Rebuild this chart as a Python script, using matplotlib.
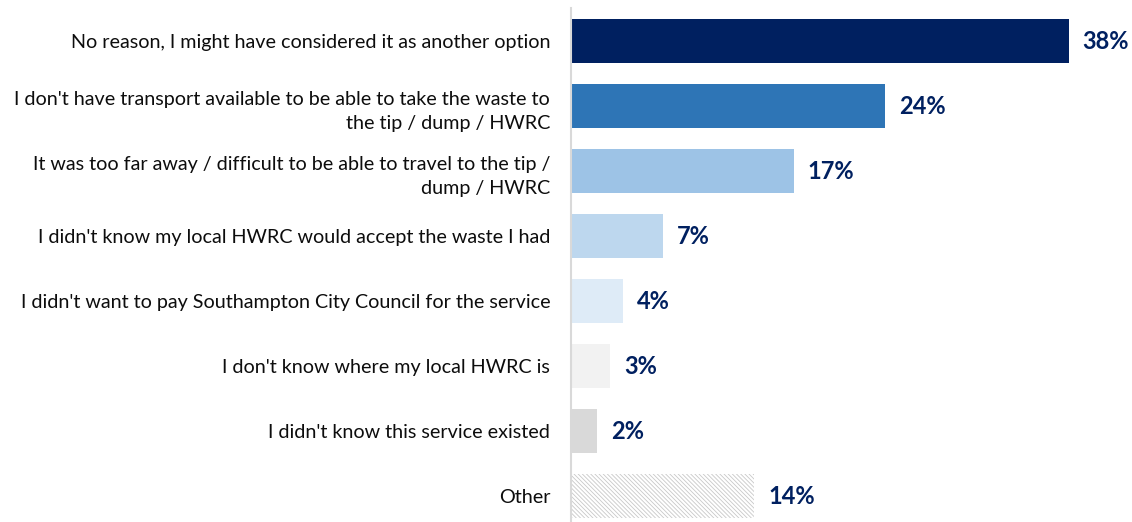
import numpy as np
import matplotlib.pyplot as plt

categories = [
    "No reason, I might have considered it as another option",
    "I don't have transport available to be able to take the waste to\nthe tip / dump / HWRC",
    "It was too far away / difficult to be able to travel to the tip /\ndump / HWRC",
    "I didn't know my local HWRC would accept the waste I had",
    "I didn't want to pay Southampton City Council for the service",
    "I don't know where my local HWRC is",
    "I didn't know this service existed",
    "Other",
]
values = [38, 24, 17, 7, 4, 3, 2, 14]
bar_colors = ["#002060", "#2E75B6", "#9DC3E6", "#BDD7EE", "#DEEBF7", "#F2F2F2", "#D9D9D9", "white"]

plt.rcParams['font.family'] = ['Lato', 'DejaVu Sans']
plt.rcParams['hatch.linewidth'] = 0.6

fig = plt.figure(figsize=(11.32, 5.22), dpi=100)
ax = fig.add_axes([571 / 1132, 0, 1 - 571 / 1132, 1 - 8 / 522])

y = np.arange(len(categories))
bars = ax.barh(y, values, height=0.68, color=bar_colors, linewidth=0)
# hatched "Other" bar
bars[-1].set_hatch('\\' * 8)
bars[-1].set_edgecolor('#C8C8C8')

for yi, v in zip(y, values):
    ax.annotate(f"{v}%", (v, yi), xytext=(10, 0), textcoords='offset points',
                va='center', ha='left', fontsize=17, fontweight='bold', color='#002060')

ax.set_xlim(0, (1132 - 571) / 13.1)
ax.set_ylim(7.4, -0.508)
ax.set_yticks(y)
ax.set_yticklabels(categories, fontsize=14.2, color='#0D0D0D', linespacing=1.55)
ax.tick_params(axis='y', length=0, pad=15)
ax.set_xticks([])
for s in ['top', 'right', 'bottom']:
    ax.spines[s].set_visible(False)
ax.spines['left'].set_color('#D9D9D9')
ax.spines['left'].set_linewidth(1.5)

fig.savefig('out.png', dpi=100)
